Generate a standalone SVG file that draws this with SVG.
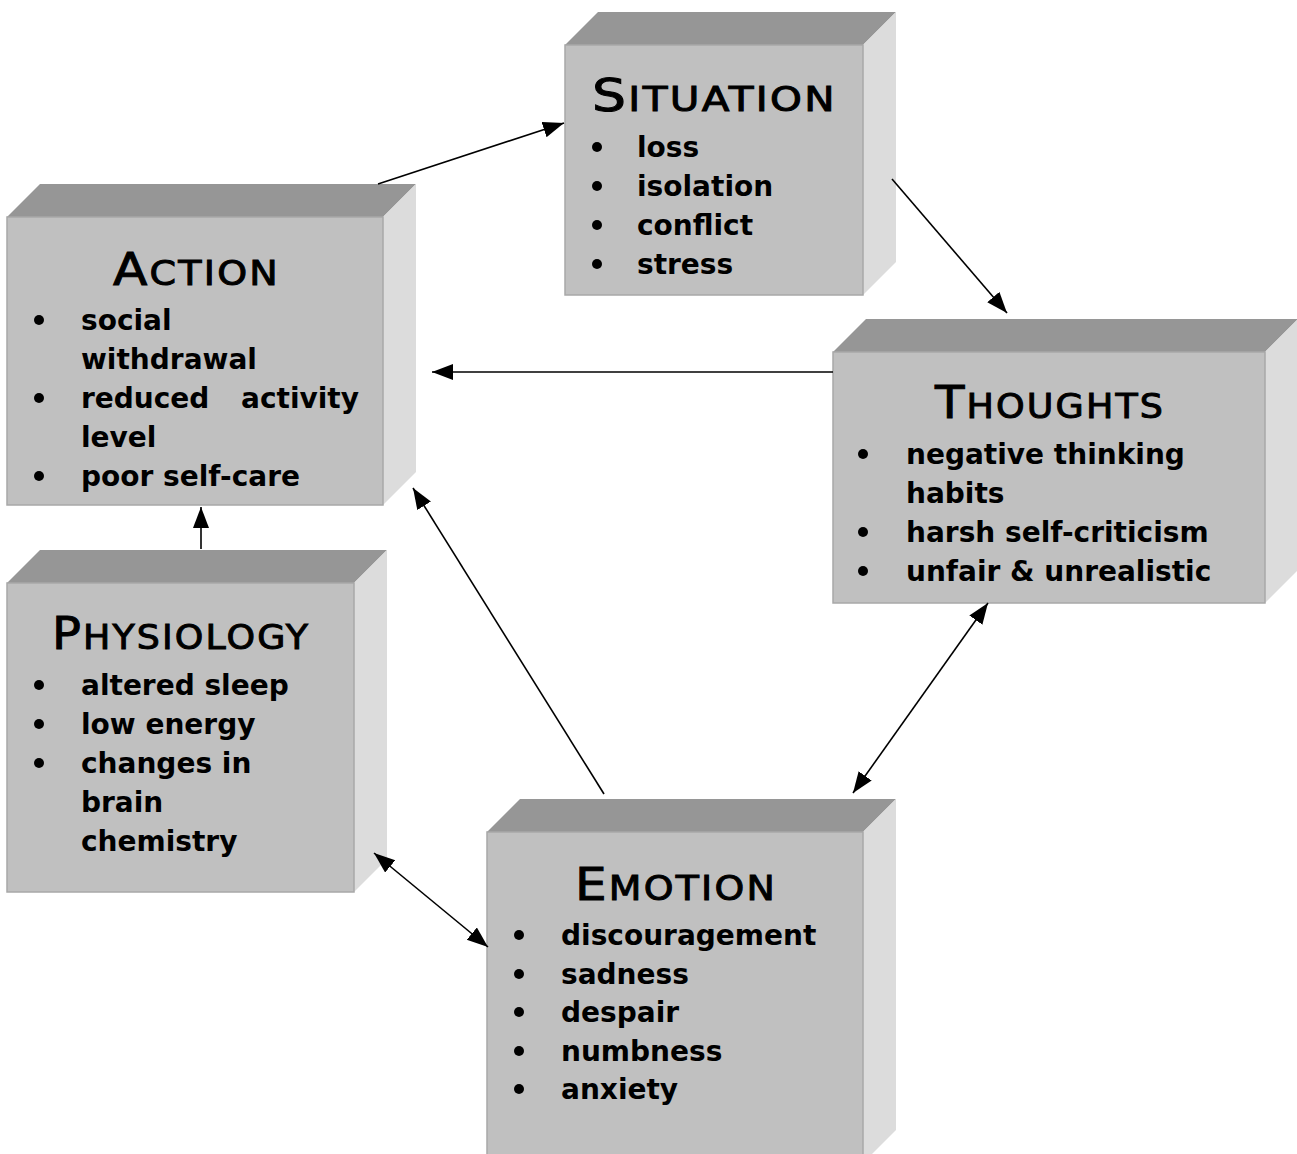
<svg xmlns="http://www.w3.org/2000/svg" width="1297" height="1154" viewBox="0 0 1297 1154">
<defs>
<style>
.top{fill:#969696}
.front{fill:#c0c0c0;stroke:#a8a8a8;stroke-width:1.5}
.side{fill:#dcdcdc}
.title{font-family:"DejaVu Sans",sans-serif;font-weight:normal;fill:#000;stroke:#000;stroke-width:1;font-size:34px;letter-spacing:2px}
.cap{font-size:45px}
.item{font-family:"DejaVu Sans","Liberation Sans",sans-serif;font-weight:bold;font-size:28px;fill:#000}
.conn line{stroke:#000;stroke-width:1.6;fill:none}
</style>
<marker id="ah" markerUnits="userSpaceOnUse" markerWidth="24" markerHeight="18" refX="21" refY="8" orient="auto-start-reverse" viewBox="0 0 24 18">
<path d="M0,0 L21,8 L0,16 z" fill="#000"/>
</marker>
</defs>
<rect width="1297" height="1154" fill="#fff"/>

<g id="situation">
<polygon class="top" points="565,45 598,12 896,12 863,45"/>
<polygon class="side" points="863,45 896,12 896,262 863,295"/>
<rect class="front" x="565" y="45" width="298" height="250"/>
<text class="title" x="592" y="111" textLength="245" lengthAdjust="spacingAndGlyphs"><tspan class="cap">S</tspan>ITUATION</text>
<g class="item">
<circle cx="597" cy="147" r="5"/><text x="637" y="157">loss</text>
<circle cx="597" cy="186" r="5"/><text x="637" y="196">isolation</text>
<circle cx="597" cy="225" r="5"/><text x="637" y="235">conflict</text>
<circle cx="597" cy="264" r="5"/><text x="637" y="274">stress</text>
</g>
</g>

<g id="action">
<polygon class="top" points="7,217 40,184 416,184 383,217"/>
<polygon class="side" points="383,217 416,184 416,472 383,505"/>
<rect class="front" x="7" y="217" width="376" height="288"/>
<text class="title" x="113" y="285" textLength="167" lengthAdjust="spacingAndGlyphs"><tspan class="cap">A</tspan>CTION</text>
<g class="item">
<circle cx="39" cy="320" r="5"/><text x="81" y="330">social</text>
<text x="81" y="369">withdrawal</text>
<circle cx="39" cy="398" r="5"/><text x="81" y="408">reduced<tspan x="241">activity</tspan></text>
<text x="81" y="447">level</text>
<circle cx="39" cy="476" r="5"/><text x="81" y="486">poor self-care</text>
</g>
</g>

<g id="thoughts">
<polygon class="top" points="833,352 866,319 1298,319 1265,352"/>
<polygon class="side" points="1265,352 1298,319 1298,570 1265,603"/>
<rect class="front" x="833" y="352" width="432" height="251"/>
<text class="title" x="935" y="418" textLength="230" lengthAdjust="spacingAndGlyphs"><tspan class="cap">T</tspan>HOUGHTS</text>
<g class="item">
<circle cx="863" cy="454" r="5"/><text x="906" y="464">negative thinking</text>
<text x="906" y="503">habits</text>
<circle cx="863" cy="532" r="5"/><text x="906" y="542">harsh self-criticism</text>
<circle cx="863" cy="571" r="5"/><text x="906" y="581">unfair &amp; unrealistic</text>
</g>
</g>

<g id="physiology">
<polygon class="top" points="7,583 40,550 387,550 354,583"/>
<polygon class="side" points="354,583 387,550 387,859 354,892"/>
<rect class="front" x="7" y="583" width="347" height="309"/>
<text class="title" x="52" y="649" textLength="258" lengthAdjust="spacingAndGlyphs"><tspan class="cap">P</tspan>HYSIOLOGY</text>
<g class="item">
<circle cx="39" cy="685" r="5"/><text x="81" y="695">altered sleep</text>
<circle cx="39" cy="724" r="5"/><text x="81" y="734">low energy</text>
<circle cx="39" cy="763" r="5"/><text x="81" y="773">changes in</text>
<text x="81" y="812">brain</text>
<text x="81" y="851">chemistry</text>
</g>
</g>

<g id="emotion">
<polygon class="top" points="487,832 520,799 896,799 863,832"/>
<polygon class="side" points="863,832 896,799 896,1130 863,1163"/>
<rect class="front" x="487" y="832" width="376" height="330"/>
<text class="title" x="575" y="900" textLength="202" lengthAdjust="spacingAndGlyphs"><tspan class="cap">E</tspan>MOTION</text>
<g class="item">
<circle cx="519" cy="935" r="5"/><text x="561" y="945">discouragement</text>
<circle cx="519" cy="974" r="5"/><text x="561" y="984">sadness</text>
<circle cx="519" cy="1012" r="5"/><text x="561" y="1022">despair</text>
<circle cx="519" cy="1051" r="5"/><text x="561" y="1061">numbness</text>
<circle cx="519" cy="1089" r="5"/><text x="561" y="1099">anxiety</text>
</g>
</g>

<g id="connectors" class="conn">
<line x1="378" y1="184" x2="564" y2="123" marker-end="url(#ah)"/>
<line x1="892" y1="179" x2="1007" y2="313" marker-end="url(#ah)"/>
<line x1="833" y1="372" x2="432" y2="372" marker-end="url(#ah)"/>
<line x1="988" y1="603" x2="853" y2="793" marker-start="url(#ah)" marker-end="url(#ah)"/>
<line x1="604" y1="794" x2="413" y2="488" marker-end="url(#ah)"/>
<line x1="201" y1="549" x2="201" y2="507" marker-end="url(#ah)"/>
<line x1="374" y1="853" x2="488" y2="947" marker-start="url(#ah)" marker-end="url(#ah)"/>
</g>
</svg>
